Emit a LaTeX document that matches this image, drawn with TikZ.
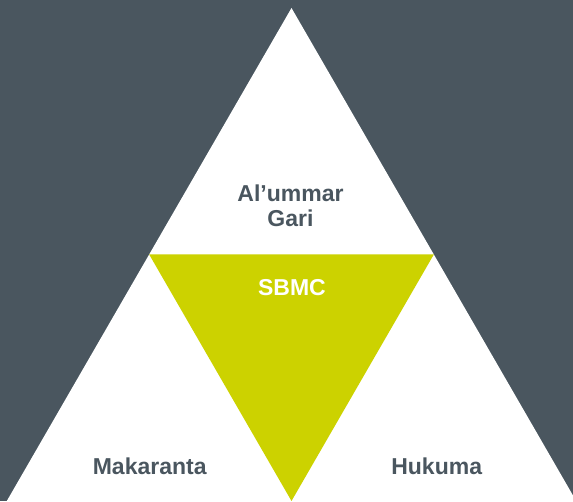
\documentclass[tikz,border=0pt]{standalone}
\usepackage{fontspec}
\setmainfont{Liberation Sans}
\definecolor{slate}{HTML}{4A565F}
\definecolor{lime}{HTML}{CCD200}
\begin{document}
\begin{tikzpicture}[x=1pt,y=1pt,
  lbl/.style={font=\bfseries\fontsize{23}{25}\selectfont, inner sep=0pt, anchor=base, align=center},
  dark/.style={lbl, text=slate},
  light/.style={lbl, text=white}]
\useasboundingbox (0,0) rectangle (573,501);
\clip (0,0) rectangle (573,501);
\fill[slate] (0,0) rectangle (573,501);
\coordinate (apex) at (291.5,493);
\coordinate (bl) at (6.8,0);
\coordinate (br) at (576.2,0);
\fill[white] (apex) -- (bl) -- (br) -- cycle;
\coordinate (ml) at (149.2,246.5);
\coordinate (mr) at (433.8,246.5);
\coordinate (mb) at (291.5,0);
\fill[lime] (ml) -- (mr) -- (mb) -- cycle;
\node[dark] (top) at (290.5,274) {Al’ummar\\Gari};
\node[light] (sbmc) at (292,205) {SBMC};
\node[dark] (mak) at (149.7,27) {Makaranta};
\node[dark] (huk) at (436.7,27) {Hukuma};
\end{tikzpicture}
\end{document}
